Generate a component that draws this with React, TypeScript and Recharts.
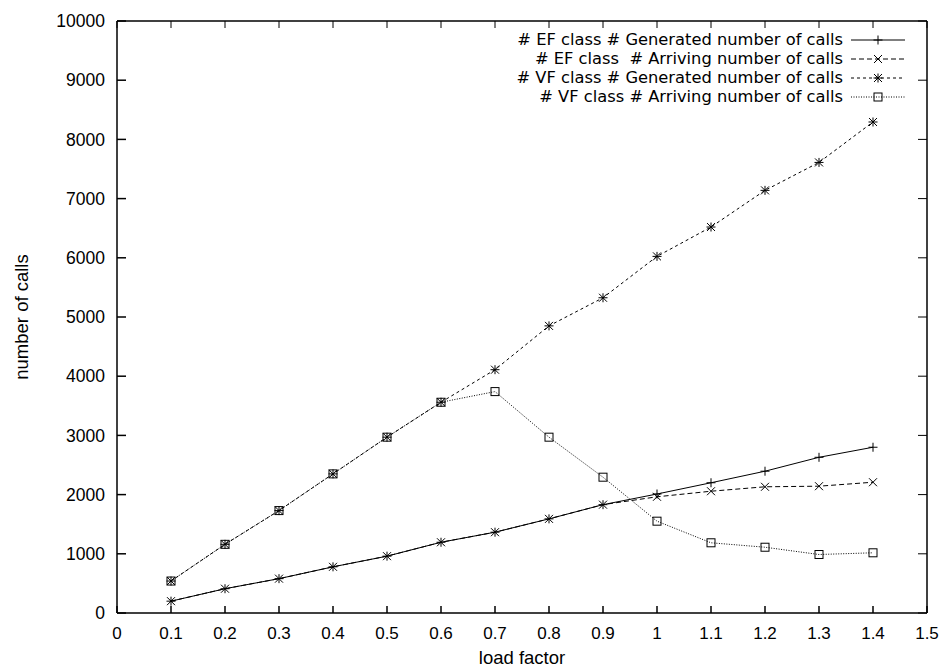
import React from 'react'
import { LineChart, Line, XAxis, YAxis, Legend } from 'recharts'

const loadFactor = [0.1, 0.2, 0.3, 0.4, 0.5, 0.6, 0.7, 0.8, 0.9, 1.0, 1.1, 1.2, 1.3, 1.4]
const efGenerated = [200, 410, 580, 780, 960, 1195, 1365, 1590, 1830, 2010, 2200, 2395, 2630, 2800]
const efArriving = [200, 410, 580, 780, 960, 1195, 1365, 1590, 1830, 1963, 2057, 2132, 2142, 2209]
const vfGenerated = [540, 1160, 1730, 2350, 2970, 3560, 4110, 4850, 5325, 6024, 6520, 7139, 7611, 8294]
const vfArriving = [540, 1160, 1730, 2350, 2970, 3560, 3740, 2970, 2294, 1551, 1186, 1111, 988, 1017]

const xTicks = [0, 0.1, 0.2, 0.3, 0.4, 0.5, 0.6, 0.7, 0.8, 0.9, 1, 1.1, 1.2, 1.3, 1.4, 1.5]
const yTicks = [0, 1000, 2000, 3000, 4000, 5000, 6000, 7000, 8000, 9000, 10000]

const seriesNames = [
  '# EF class # Generated number of calls',
  '# EF class  # Arriving number of calls',
  '# VF class # Generated number of calls',
  '# VF class # Arriving number of calls',
]

const data = loadFactor.map((x, i) => ({
  x,
  efGen: efGenerated[i],
  efArr: efArriving[i],
  vfGen: vfGenerated[i],
  vfArr: vfArriving[i],
}))

// top and right edges of the plot frame
const topEdge = [{ x: 0, edge: 10000 }, { x: 1.5, edge: 10000 }]
const rightEdge = [{ x: 1.5, edge: 0 }, { x: 1.5, edge: 10000 }]

const FONT = '"Liberation Sans", Arial, sans-serif'
const LEGEND_FONT = '"DejaVu Sans", sans-serif'
const W = 945
const H = 668
const MARGIN = { top: 21, right: 18, bottom: 0, left: 0 }

type MarkerKind = 'plus' | 'cross' | 'star' | 'box'

function markerPath(kind: MarkerKind, cx: number, cy: number) {
  const s = 4.5
  const plus = `M${cx - s},${cy}H${cx + s}M${cx},${cy - s}V${cy + s}`
  const c = 4
  const cross = `M${cx - c},${cy - c}L${cx + c},${cy + c}M${cx - c},${cy + c}L${cx + c},${cy - c}`
  if (kind === 'plus') return plus
  if (kind === 'cross') return cross
  return plus + cross
}

function Marker({ kind, cx, cy }: { kind: MarkerKind; cx: number; cy: number }) {
  if (kind === 'box') {
    return <rect x={cx - 4} y={cy - 4} width={8} height={8} fill="none" stroke="#000" strokeWidth={1} />
  }
  return <path d={markerPath(kind, cx, cy)} stroke="#000" strokeWidth={1} fill="none" />
}

const makeDot = (kind: MarkerKind) => (props: any) => {
  const { cx, cy, index } = props
  return (
    <g key={`${kind}-${index}`}>
      <Marker kind={kind} cx={cx} cy={cy} />
    </g>
  )
}

const styles: { kind: MarkerKind; dash?: string }[] = [
  { kind: 'plus' },
  { kind: 'cross', dash: '5 3' },
  { kind: 'star', dash: '3 3' },
  { kind: 'box', dash: '1 1.5' },
]

function LegendBox() {
  return (
    <div style={{ fontFamily: LEGEND_FONT, fontSize: 16.3, color: '#000' }}>
      {seriesNames.map((name, i) => (
        <div key={name} style={{ display: 'flex', justifyContent: 'flex-end', alignItems: 'center', height: 19 }}>
          <span style={{ whiteSpace: 'pre', lineHeight: '19px' }}>{name}</span>
          <svg width={62} height={18} style={{ marginLeft: 8 }}>
            <line x1={0} y1={9} x2={54} y2={9} stroke="#000" strokeWidth={1} strokeDasharray={styles[i].dash} />
            <Marker kind={styles[i].kind} cx={27} cy={9} />
          </svg>
        </div>
      ))}
    </div>
  )
}

// second chart laid over the first: only the mirrored tick marks on top and right
function MirrorTicks() {
  return (
    <LineChart width={W} height={H} data={data} margin={{ top: 0, right: 0, bottom: 55, left: 117 }}>
      <XAxis
        orientation="top"
        dataKey="x"
        type="number"
        domain={[0, 1.5]}
        ticks={xTicks}
        height={21}
        tickSize={-7}
        axisLine={false}
        stroke="#000"
        tickFormatter={() => ''}
      />
      <YAxis
        orientation="right"
        domain={[0, 10000]}
        ticks={yTicks}
        width={18}
        tickSize={-9}
        axisLine={false}
        stroke="#000"
        tickFormatter={() => ''}
      />
      <Line dataKey="efGen" stroke="none" dot={false} activeDot={false} legendType="none" isAnimationActive={false} />
    </LineChart>
  )
}

export default function App() {
  return (
    <div style={{ position: 'absolute', left: 0, top: 0, width: W, height: H, background: '#fff' }}>
      <div style={{ position: 'absolute', left: 0, top: 0 }}>
        <LineChart width={W} height={H} data={data} margin={MARGIN}>
          <XAxis
            xAxisId="bottom"
            dataKey="x"
            type="number"
            domain={[0, 1.5]}
            ticks={xTicks}
            height={55}
            tickSize={-7}
            tickMargin={21}
            stroke="#000"
            strokeWidth={1.5}
            tick={{ fill: '#000', fontSize: 17, fontFamily: FONT }}
            label={{ value: 'load factor', position: 'insideBottom', offset: 4, fill: '#000', fontSize: 18.5, fontFamily: FONT }}
          />
          <YAxis
            yAxisId="left"
            domain={[0, 10000]}
            ticks={yTicks}
            width={117}
            tickSize={-9}
            tickMargin={21}
            stroke="#000"
            strokeWidth={1.5}
            tick={{ fill: '#000', fontSize: 17.5, fontFamily: FONT }}
            label={{
              value: 'number of calls',
              angle: -90,
              position: 'insideLeft',
              offset: 21,
              fill: '#000',
              fontSize: 18.5,
              fontFamily: FONT,
              style: { textAnchor: 'middle' },
            }}
          />
          <Legend
            layout="horizontal"
            verticalAlign="middle"
            align="center"
            wrapperStyle={{ left: 386, top: 30, width: 527, height: 76 }}
            content={() => <LegendBox />}
          />
          <Line xAxisId="bottom" yAxisId="left" data={topEdge} dataKey="edge" stroke="#000" strokeWidth={1.5} dot={false} activeDot={false} legendType="none" isAnimationActive={false} />
          <Line xAxisId="bottom" yAxisId="left" data={rightEdge} dataKey="edge" stroke="#000" strokeWidth={1.5} dot={false} activeDot={false} legendType="none" isAnimationActive={false} />
          <Line xAxisId="bottom" yAxisId="left" dataKey="efGen" stroke="#000" strokeWidth={1} dot={makeDot('plus')} activeDot={false} isAnimationActive={false} />
          <Line xAxisId="bottom" yAxisId="left" dataKey="efArr" stroke="#000" strokeWidth={1} strokeDasharray="5 3" dot={makeDot('cross')} activeDot={false} isAnimationActive={false} />
          <Line xAxisId="bottom" yAxisId="left" dataKey="vfGen" stroke="#000" strokeWidth={1} strokeDasharray="3 3" dot={makeDot('star')} activeDot={false} isAnimationActive={false} />
          <Line xAxisId="bottom" yAxisId="left" dataKey="vfArr" stroke="#000" strokeWidth={1} strokeDasharray="1 1.5" dot={makeDot('box')} activeDot={false} isAnimationActive={false} />
        </LineChart>
      </div>
      <div style={{ position: 'absolute', left: 0, top: 0, pointerEvents: 'none' }}>
        <MirrorTicks />
      </div>
    </div>
  )
}
